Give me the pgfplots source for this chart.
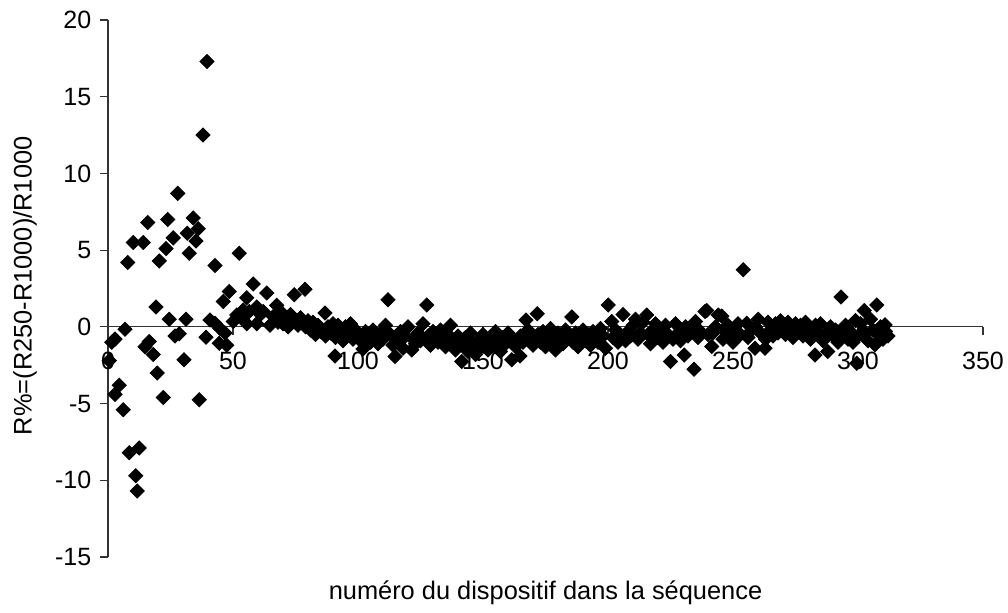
\documentclass[border=0pt]{standalone}
\usepackage{fontspec}
\setmainfont{Liberation Sans}
\usepackage{pgfplots}
\pgfplotsset{compat=1.18}
\usepackage{pgfplotstable}

% device index vs relative difference (%)
\pgfplotstableread{
x y
0.5 -2.2
1.5 -1.0
2.8 -0.8
2.8 -4.4
4.5 -3.8
6.1 -5.4
6.8 -0.15
7.9 4.2
8.5 -8.2
10.1 5.5
11.1 -9.7
11.7 -10.7
12.5 -7.9
14.1 5.5
14.8 -1.3
15.9 6.8
16.5 -0.95
18.1 -1.8
19.2 1.3
19.7 -3.0
20.5 4.3
22.1 -4.6
23.2 5.1
23.9 7.0
24.5 0.5
26.1 5.8
26.8 -0.6
27.9 8.7
28.5 -0.45
30.4 -2.15
31.2 0.5
31.7 6.1
32.5 4.8
34.1 7.1
35.2 5.6
36.1 6.4
36.5 -4.75
38.0 12.5
39.2 -0.67
39.6 17.3
40.8 0.45
42.8 0.24
42.8 4.0
44.5 -1.07
44.8 -0.1
46.1 1.65
46.8 -0.4
47.5 -1.2
48.5 2.3
50.1 0.35
51.5 0.78
52.5 4.8
53.0 0.7
54.1 1.1
55.5 1.9
55.5 0.2
56.5 1.0
58.1 2.8
59.5 1.3
59.5 0.2
61.0 0.8
62.1 1.0
63.5 2.2
64.8 0.1
66.1 0.67
67.5 1.4
68 0.3
69 1.0
70 0.2
71 0.5
72 0.0
73 0.8
74.5 2.1
75 0.3
76 0.1
77 0.6
78.8 2.45
79 0.0
80 0.4
81 -0.2
82 0.3
83 -0.5
84 0.1
85 -0.3
86.8 0.9
87 -0.6
88 0.0
89 -0.4
90 0.2
90.8 -1.9
91 -0.7
92 0.1
93 -0.3
94 -0.9
95 0.0
96 -0.5
97 0.2
98 -0.8
99 -0.2
100 -0.5
101 -0.9
102 -1.45
103 -0.3
104 -0.7
105 -1.0
106 -0.2
107 -0.6
108 -1.1
109 -0.4
110 -0.8
111 0.1
112 1.76
113 -0.5
114 -1.2
114.8 -1.93
116 -0.9
117 -0.3
118 -1.4
119 -0.6
120 0.0
121.5 -1.5
122 -0.8
123 -1.1
124 -0.4
125 -0.9
126 0.2
127.5 1.43
128 -0.6
129 -1.2
130 -0.3
131 -0.8
132 -1.0
133 -0.2
134 -0.7
135 -1.3
136 -0.5
137 0.1
138 -0.9
139 -1.5
140 -0.6
141.5 -2.26
142 -1.2
143 -0.7
144 -1.6
145 -0.4
146 -1.1
147 -1.8
148 -0.9
149 -1.3
150 -0.5
151 -1.0
152 -1.5
153 -0.8
154 -1.2
155 -0.3
156 -1.0
157 -1.6
158 -0.7
159 -1.1
160 -0.4
161.5 -2.15
162 -0.9
163 -1.3
164.8 -1.9
165 -0.6
166 -1.0
167.2 0.45
168 -0.2
169 -0.8
170 -1.2
171.7 0.85
172 -0.5
173 -1.0
174 -0.3
175 -1.3
176 -0.7
177 -0.1
178 -0.9
179 -1.5
180 -0.4
181 -0.8
182 -1.1
183 -0.2
184 -0.6
185.5 0.65
186 -1.0
187 -0.4
188 -1.3
189 -0.7
190 -0.2
191 -0.9
192 -0.5
193 -1.2
194 -0.3
195 -0.8
196 -1.0
197 -0.1
198 -0.6
199 -1.4
200.1 1.43
201.5 0.35
202 -0.7
203 -0.2
204 -1.0
205 -0.5
206 0.8
207 -0.9
208 -0.3
209 -0.6
210 0.1
211 0.5
212 -0.8
213 -0.4
214 0.3
215.5 0.78
216 -0.5
217 -1.1
218 -0.2
219 0.2
220 -0.7
221 -0.3
222 -1.0
223 0.1
224 -0.5
225 -2.26
226 -0.8
227 0.2
228 -0.4
229 -0.9
230.5 -1.83
231 0.0
232 -0.6
233 -0.2
234.4 -2.76
235 0.35
236 -0.7
237 -0.3
238.8 1.0
239.5 1.06
240 -0.5
241.5 -1.28
242 -0.4
243 0.0
244.1 0.78
245.5 0.7
246 -0.8
247 -0.3
248 0.1
249 -0.6
250 -1.0
251 -0.2
252 0.2
253 -0.5
254.1 3.72
255.5 0.24
256 -0.7
257 -0.3
258.8 -1.39
259 0.0
260.1 0.5
261 -0.4
262.8 -1.39
263 -0.8
264 0.3
265 -0.2
266 -0.6
267 0.2
268 -0.4
269 0.4
270 -0.1
271 -0.5
272 0.3
273 0.0
274 -0.7
275 0.2
276 -0.3
277 0.1
278 -0.6
279 0.3
280 -0.2
281 -0.8
282.8 -1.83
283 0.1
284 -0.4
285 0.2
286 -0.9
287.9 -1.61
288 -0.3
289 0.0
290 -0.6
291 -0.2
292 -1.0
293.2 1.94
294 -0.5
295 0.1
296 -0.8
297 -0.3
298 -1.0
299 0.41
299.5 -2.37
300 -0.6
301 0.2
302.5 1.06
303 -0.4
304 -0.9
305 0.5
306 -0.2
306.8 -1.17
307.5 1.43
308 -0.5
309 0.0
310 -0.8
310.8 0.13
311 -0.3
312 -0.6
}\ratios

\begin{document}
\fontsize{12.5}{15}\selectfont
\begin{tikzpicture}
\path[use as bounding box] (0,0) rectangle (504pt,306pt);
\begin{axis}[
    at={(54pt,27.5pt)}, anchor=south west,
    scale only axis, width=437.5pt, height=268.5pt,
    xmin=0, xmax=350, ymin=-15, ymax=20,
    axis x line*=middle, axis y line*=left,
    hide obscured x ticks=false,
    xtick={0,50,...,350}, ytick={-15,-10,...,20},
    tick align=outside, major tick length=4pt,
    tick style={black!80, line width=0.6pt},
    axis line style={black!80, line width=0.6pt},
    /pgf/number format/assume math mode=true,
    ticklabel style={font=\fontsize{12.5}{15}\selectfont},
    xticklabel style={yshift=-4pt},
    xlabel={numéro du dispositif dans la séquence},
    ylabel={R\%=(R250-R1000)/R1000},
    every axis x label/.style={at={(axis description cs:0.5,-0.067)}, anchor=center,
        font=\fontsize{12.7}{15}\selectfont},
    every axis y label/.style={at={(axis description cs:-0.0949,0.505)}, anchor=center,
        rotate=90, font=\fontsize{12.7}{15}\selectfont},
    clip=false,
]
\addplot[only marks, mark=square*, mark size=2.5pt,
    mark options={rotate=45, fill=black, draw=black}] table {\ratios};
\end{axis}
\end{tikzpicture}
\end{document}
